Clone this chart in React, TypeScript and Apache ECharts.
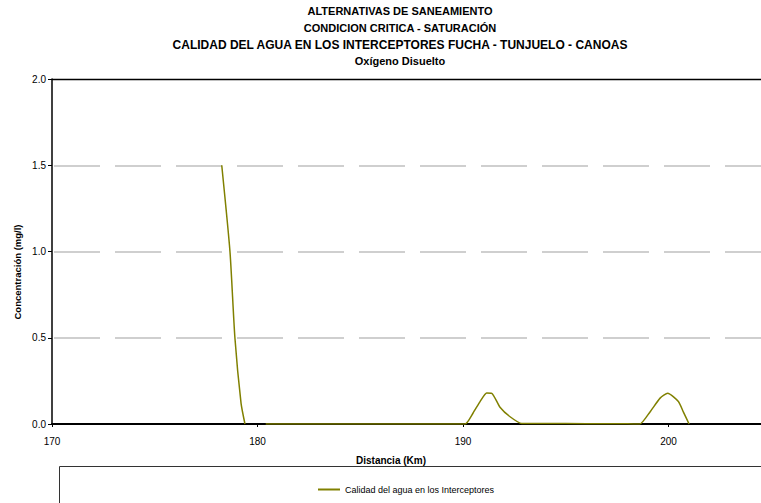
import React, { useEffect, useRef } from "react";
import * as echarts from "echarts";

const titleLines = [
  "ALTERNATIVAS DE SANEAMIENTO",
  "CONDICION CRITICA - SATURACIÓN",
  "CALIDAD DEL AGUA EN LOS INTERCEPTORES FUCHA - TUNJUELO - CANOAS",
  "Oxígeno Disuelto",
];
const seriesName = "Calidad del agua en los Interceptores";
const xAxisTitle = "Distancia (Km)";
const yAxisTitle = "Concentración (mg/l)";

// Distance (km) and dissolved oxygen (mg/l); null = gap in the line
const distanceKm = [
  178.26, 178.66, 178.9, 179.2, 179.39,
  179.9,
  180.4, 182, 184, 186, 188, 189.5, 190.1, 190.49, 190.83, 191.15, 191.4,
  191.8, 192.29, 192.86, 194, 196, 198, 198.6, 199.1, 199.59, 199.96,
  200.48, 200.72, 201.0,
];
const oxygen: (number | null)[] = [
  1.5, 1.0, 0.5, 0.12, 0.0,
  null,
  0.0, 0.0, 0.0, 0.0, 0.0, 0.0, 0.0, 0.064, 0.13, 0.18, 0.178,
  0.097, 0.042, 0.003, 0.003, 0.002, 0.001, 0.0, 0.07, 0.15, 0.178,
  0.13, 0.07, 0.0,
];

const xMin = 170;
const xMax = 204.5;
const yMin = 0;
const yMax = 2;

export default function App() {
  const ref = useRef<HTMLDivElement>(null);
  useEffect(() => {
    if (!ref.current) return;
    const chart = echarts.init(ref.current, null, { renderer: "svg" });
    const font = "Arial, 'Liberation Sans', sans-serif";
    const data = distanceKm.map((x, i) => [x, oxygen[i] === null ? "-" : oxygen[i]]);
    const titleText = titleLines
      .map((t, i) => (i === 2 ? `{b|${t}}` : `{a|${t}}`))
      .join("\n");
    chart.setOption({
      animation: false,
      backgroundColor: "#ffffff",
      textStyle: { fontFamily: font },
      title: {
        text: titleText,
        left: 400,
        top: 3,
        padding: 0,
        textAlign: "center",
        textStyle: {
          fontFamily: font,
          fontSize: 11,
          fontWeight: "bold",
          color: "#000",
          lineHeight: 16.7,
          rich: {
            a: { fontFamily: font, fontSize: 11, fontWeight: "bold", color: "#000", lineHeight: 16.7 },
            b: { fontFamily: font, fontSize: 12, fontWeight: "bold", color: "#000", lineHeight: 16.7 },
          },
        },
      },
      grid: { left: 52, right: 0, top: 79, bottom: 79, containLabel: false },
      legend: {
        left: 313,
        top: 480,
        icon: "rect",
        itemWidth: 22,
        itemHeight: 2,
        textStyle: { fontFamily: font, fontSize: 9, color: "#000" },
        data: [seriesName],
      },
      xAxis: {
        type: "value",
        min: xMin,
        max: xMax,
        interval: 10,
        axisLine: { show: true, lineStyle: { color: "#000", width: 2 } },
        axisTick: { show: true, length: 3, lineStyle: { color: "#000" } },
        axisLabel: {
          fontFamily: font,
          fontSize: 10,
          color: "#000",
          margin: 12,
          showMaxLabel: false,
        },
        splitLine: { show: false },
      },
      yAxis: {
        type: "value",
        min: yMin,
        max: yMax,
        interval: 0.5,
        axisLine: { show: true, lineStyle: { color: "#000", width: 1.5 } },
        axisTick: { show: true, length: 4, lineStyle: { color: "#000" } },
        axisLabel: {
          fontFamily: font,
          fontSize: 10,
          color: "#000",
          margin: 6,
          formatter: (v: number) => v.toFixed(1),
        },
        splitLine: {
          show: true,
          showMinLine: false,
          showMaxLine: false,
          lineStyle: { color: "#c0c0c0", width: 1.5, type: [46, 15], dashOffset: 59 },
        },
      },
      graphic: [
        {
          type: "line",
          shape: { x1: 52, y1: 79.5, x2: 761, y2: 79.5 },
          style: { stroke: "#000", lineWidth: 1.5 },
          silent: true,
        },
        {
          type: "text",
          x: 391,
          y: 460,
          style: {
            text: xAxisTitle,
            fontFamily: font,
            fontSize: 10,
            fontWeight: "bold",
            fill: "#000",
            align: "center",
            verticalAlign: "middle",
          },
        },
        {
          type: "text",
          x: 17,
          y: 272,
          rotation: Math.PI / 2,
          style: {
            text: yAxisTitle,
            fontFamily: font,
            fontSize: 9.5,
            fontWeight: "bold",
            fill: "#000",
            align: "center",
            verticalAlign: "middle",
          },
        },
        {
          type: "rect",
          shape: { x: 59.5, y: 466.5, width: 702, height: 37 },
          style: { fill: "none", stroke: "#333", lineWidth: 1 },
          silent: true,
          z: -1,
        },
      ],
      series: [
        {
          name: seriesName,
          type: "line",
          data,
          showSymbol: false,
          symbol: "none",
          smooth: 0.2,
          connectNulls: false,
          lineStyle: { color: "#808000", width: 1.5 },
          itemStyle: { color: "#808000" },
          z: 5,
        },
      ],
    });
    return () => chart.dispose();
  }, []);
  return (
    <div
      ref={ref}
      style={{ position: "fixed", left: 0, top: 0, width: 761, height: 503 }}
    />
  );
}
